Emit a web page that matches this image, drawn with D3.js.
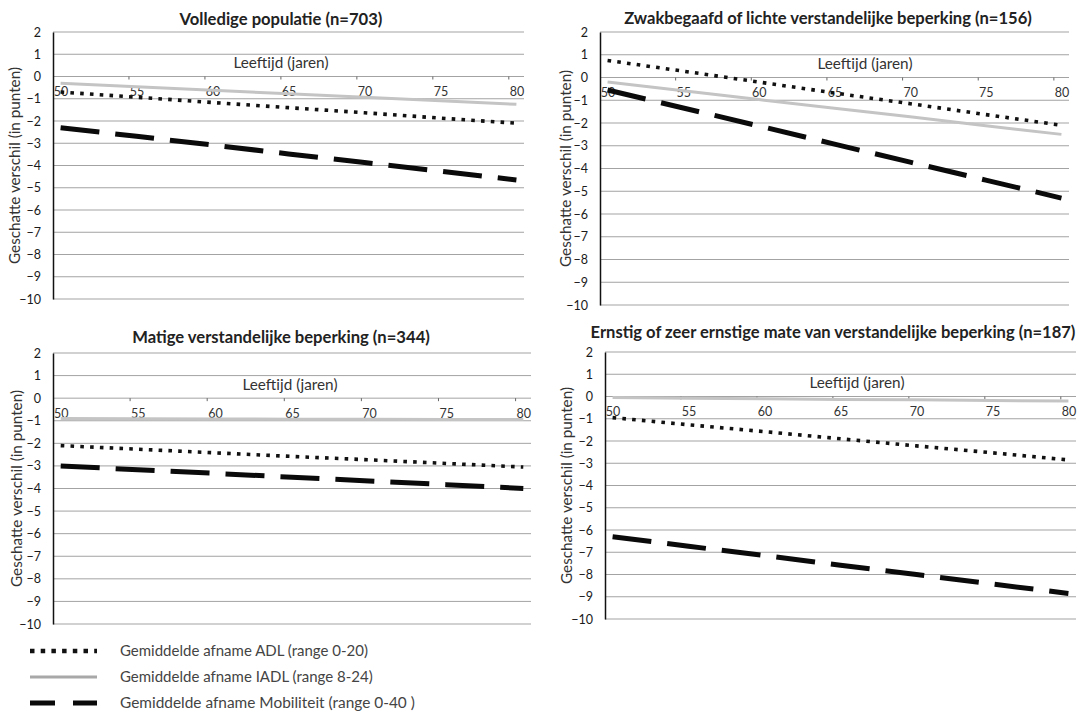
<!DOCTYPE html>
<html>
<head>
<meta charset="utf-8">
<script src="https://cdn.jsdelivr.net/npm/d3@7/dist/d3.min.js"></script>
<style>
  body { margin: 0; background: #fff; }
  svg { font-family: Lato, "Liberation Sans", sans-serif; }
</style>
</head>
<body>
<svg id="chart" width="1079" height="713"></svg>
<script>
// data
var ages = [50, 55, 60, 65, 70, 75, 80];
var ageTicks = [50, 55, 60, 65, 70, 75, 80];
var yTicks = [2, 1, 0, -1, -2, -3, -4, -5, -6, -7, -8, -9, -10];

var titles = [
  'Volledige populatie (n=703)',
  'Zwakbegaafd  of lichte verstandelijke beperking (n=156)',
  'Matige verstandelijke beperking (n=344)',
  'Ernstig of zeer ernstige mate van verstandelijke  beperking (n=187)'
];

var adlVolledig = [-0.70, -0.93, -1.17, -1.40, -1.63, -1.87, -2.10];
var iadlVolledig = [-0.30, -0.46, -0.62, -0.78, -0.93, -1.09, -1.25];
var mobVolledig = [-2.30, -2.69, -3.08, -3.48, -3.87, -4.26, -4.65];

var adlLicht = [0.75, 0.28, -0.20, -0.68, -1.15, -1.63, -2.10];
var iadlLicht = [-0.20, -0.58, -0.97, -1.35, -1.73, -2.12, -2.50];
var mobLicht = [-0.55, -1.34, -2.13, -2.93, -3.72, -4.51, -5.30];

var adlMatig = [-2.10, -2.26, -2.42, -2.58, -2.73, -2.89, -3.05];
var iadlMatig = [-0.90, -0.91, -0.92, -0.93, -0.93, -0.94, -0.95];
var mobMatig = [-3.00, -3.17, -3.33, -3.50, -3.67, -3.83, -4.00];

var adlErnstig = [-0.95, -1.27, -1.58, -1.90, -2.22, -2.53, -2.85];
var iadlErnstig = [-0.05, -0.08, -0.10, -0.13, -0.15, -0.18, -0.20];
var mobErnstig = [-6.30, -6.73, -7.15, -7.58, -8.00, -8.43, -8.85];

var legendLabels = [
  'Gemiddelde afname ADL (range 0-20)',
  'Gemiddelde afname IADL (range 8-24)',
  'Gemiddelde afname Mobiliteit (range 0-40 )'
];

var seriesData = [
  [adlVolledig, iadlVolledig, mobVolledig],
  [adlLicht, iadlLicht, mobLicht],
  [adlMatig, iadlMatig, mobMatig],
  [adlErnstig, iadlErnstig, mobErnstig]
];

// layout of each panel (pixels)
var boxes = [
  {left: 53, right: 524, top: 32, bottom: 299, titleX: 281, titleY: 25, titleW: 203, ageX: 281, axisTitleX: 15},
  {left: 600, right: 1069, top: 32, bottom: 305, titleX: 828, titleY: 24, titleW: 408, ageX: 865, axisTitleX: 566},
  {left: 53, right: 531, top: 353, bottom: 624, titleX: 281, titleY: 343, titleW: 298, ageX: 290, axisTitleX: 17},
  {left: 605, right: 1076, top: 352, bottom: 619, titleX: 833, titleY: 338, titleW: 485, ageX: 857, axisTitleX: 567}
];

var styles = [
  {color: '#111', width: 3.6, dash: '3.6,6.2'},
  {color: '#c4c4c4', width: 3, dash: null},
  {color: '#0a0a0a', width: 5, dash: '39,16'}
];

var svg = d3.select('#chart');

// scale a text's font so that it is as wide as the reference
function fit(sel, target) {
  var w = sel.node().getComputedTextLength();
  var fs = parseFloat(sel.style('font-size'));
  sel.style('font-size', (fs * target / w) + 'px');
}

boxes.forEach(function(b, i) {
  var g = svg.append('g');
  // one category per year, points at category centres
  var x = d3.scaleLinear().domain([49.5, 80.5]).range([b.left, b.right]);
  var y = d3.scaleLinear().domain([-10, 2]).range([b.bottom, b.top]);

  // gridlines
  g.selectAll('line.grid').data(yTicks).enter().append('line')
    .attr('class', 'grid')
    .attr('x1', b.left).attr('x2', b.right)
    .attr('y1', function(d) { return y(d); }).attr('y2', function(d) { return y(d); })
    .style('stroke', '#a3a3a3').style('stroke-width', 1);

  // y axis
  g.append('g').attr('transform', 'translate(' + b.left + ',0)')
    .call(d3.axisLeft(y).tickValues(yTicks).tickSize(0).tickPadding(12).tickFormat(d3.format('d')))
    .call(function(s) {
      s.select('.domain').style('stroke', '#111').style('stroke-width', 1.5);
      s.selectAll('text').style('font-size', '12.5px').style('fill', '#1a1a1a').style('font-family', 'Lato, sans-serif');
    });

  // x axis on the zero line: labels at category centres, tick marks at boundaries
  g.append('g').attr('transform', 'translate(0,' + y(0) + ')')
    .call(d3.axisBottom(x).tickValues(ageTicks).tickSize(0).tickPadding(11))
    .call(function(s) {
      s.select('.domain').remove();
      s.selectAll('text').style('font-size', '12.5px').style('fill', '#333').style('font-family', 'Lato, sans-serif');
    });
  g.selectAll('line.tick').data(ageTicks.slice(1)).enter().append('line')
    .attr('class', 'tick')
    .attr('x1', function(d) { return x(d - 0.5); }).attr('x2', function(d) { return x(d - 0.5); })
    .attr('y1', y(0)).attr('y2', y(0) + 3)
    .style('stroke', '#666');

  // titles
  var t = g.append('text').attr('x', b.titleX).attr('y', b.titleY)
    .attr('text-anchor', 'middle').style('font-weight', 'bold').style('font-size', '16px').style('fill', '#222')
    .text(titles[i]);
  fit(t, b.titleW);

  var a = g.append('text').attr('x', b.ageX).attr('y', y(0.6) + 5)
    .attr('text-anchor', 'middle').style('font-size', '14.5px').style('fill', '#333')
    .text('Leeftijd (jaren)');
  fit(a, 95);

  var v = g.append('text')
    .attr('transform', 'translate(' + b.axisTitleX + ',' + ((b.top + b.bottom) / 2) + ') rotate(-90)')
    .attr('text-anchor', 'middle').attr('dy', '0.35em')
    .style('font-size', '15px').style('fill', '#333')
    .text('Geschatte verschil (in punten)');
  fit(v, 197);

  // series
  var line = d3.line().x(function(d, j) { return x(ages[j]); }).y(function(d) { return y(d); });
  [1, 0, 2].forEach(function(k) {
    var st = styles[k];
    g.append('path').datum(seriesData[i][k])
      .attr('d', line)
      .style('fill', 'none').style('stroke', st.color).style('stroke-width', st.width)
      .style('stroke-dasharray', st.dash);
  });
});

// legend
var legendY = [651, 677, 703];
var legendW = [248, 253, 295];
var legendDash = ['4.5,6.2', null, '25,18'];
var legendColor = ['#111', '#a8a8a8', '#0a0a0a'];
legendLabels.forEach(function(t, k) {
  var st = styles[k];
  svg.append('line').attr('x1', 30).attr('x2', 97).attr('y1', legendY[k]).attr('y2', legendY[k])
    .style('stroke', legendColor[k]).style('stroke-width', k === 0 ? 4.5 : st.width)
    .style('stroke-dasharray', legendDash[k]);
  var lt = svg.append('text').attr('x', 120).attr('y', legendY[k]).attr('dy', '0.35em')
    .style('font-size', '15px').style('fill', '#444').text(t);
  fit(lt, legendW[k]);
});
</script>
</body>
</html>
